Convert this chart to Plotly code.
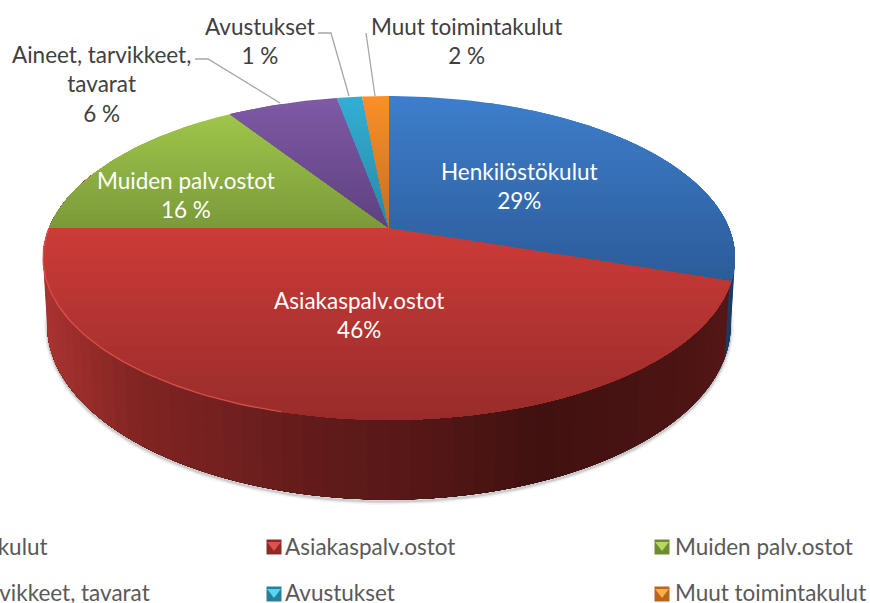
import numpy as np
import plotly.graph_objects as go

# --- data -----------------------------------------------------------------
categories = ["Henkilöstökulut", "Asiakaspalv.ostot", "Muiden palv.ostot",
              "Aineet, tarvikkeet, tavarat", "Avustukset", "Muut toimintakulut"]
# slice shares as drawn (angle)
values = [30.2, 44.8, 15.9, 6.2, 1.4, 1.5]
# percentages as printed on the chart
printed = ["29%", "46%", "16 %", "6 %", "1 %", "2 %"]

# --- style ----------------------------------------------------------------
top_light = ["#3e7ecc", "#cc3b38", "#a0c64b", "#7f59a5", "#33afd4", "#fa9028"]
top_dark = ["#2b5b98", "#982c2a", "#7a9a39", "#5e4180", "#2a88a6", "#c76e20"]
band_span = [(96, 285), (228, 420), (113, 228), (99, 228), (96, 228), (96, 228)]
bevel_dark = ["#2b5b98", "#8c2a28", "#6f8c34", "#5e4180", "#26809c", "#b9651c"]
bevel_light = ["#5a94dc", "#e0504c", "#b4d860", "#9a74c0", "#55d4f4", "#fdaa50"]

W, H = 870, 603
CX, CY = 389.0, 228.0
C = 0.185
A = -114.2
R = 340.0
DEPTH = 65.0
BOTTOM_X = 0.988
FS = 22.5
FONT = "Lato"


def hex2rgb(h):
    return np.array([int(h[i:i + 2], 16) for i in (1, 3, 5)], float)


def mix(a, b, t):
    t = float(np.clip(t, 0, 1))
    c = hex2rgb(a) * (1 - t) + hex2rgb(b) * t
    return "rgb(%d,%d,%d)" % tuple(np.round(c))


def proj(theta):
    """Angle (radians, clockwise from 12 o'clock) -> top-face pixel position."""
    u, v = np.sin(theta), np.cos(theta)
    w = 1 + C * v
    return CX + R * u / w, (A * v + CY) / w


def proj_bottom(theta):
    x, y = proj(theta)
    return CX + (x - CX) * BOTTOM_X, y + DEPTH / (1 + C * np.cos(theta))


def clip_below(pts, y0):
    """Keep the part of a polygon with y >= y0 (Sutherland-Hodgman)."""
    out = []
    for i in range(len(pts)):
        a, b = pts[i], pts[(i + 1) % len(pts)]
        ia, ib = a[1] >= y0, b[1] >= y0
        if ia:
            out.append(a)
        if ia != ib:
            t = (y0 - a[1]) / (b[1] - a[1])
            out.append((a[0] + t * (b[0] - a[0]), y0))
    return out


fig = go.Figure()


def poly(xs, ys, color):
    fig.add_trace(go.Scatter(x=list(xs), y=list(ys), mode="lines", fill="toself",
                             fillcolor=color, line=dict(width=0),
                             hoverinfo="skip", showlegend=False))


edges = np.cumsum([0] + values) / sum(values) * 2 * np.pi

# soft shadow under the wall
th = np.linspace(np.pi * 0.45, np.pi * 1.55, 120)
bx, by = proj_bottom(th)
for lw, al in ((7, 0.05), (4, 0.09), (2, 0.14)):
    fig.add_trace(go.Scatter(x=bx, y=by + 2, mode="lines", hoverinfo="skip", showlegend=False,
                             line=dict(color="rgba(60,60,60,%.2f)" % al, width=lw)))

# side wall: colour steps painted over each other, shaded by screen x
wall_x = [40, 130, 300, 450, 540, 700, 740]
wall_c = ["#ab3431", "#832523", "#641c1b", "#501615", "#401110", "#4d1514", "#571817"]
blue_wall = "#1c3b63"
wall_end = np.radians(292.0)
for a0 in np.radians(np.arange(84, 290, 3.0)):
    seg = np.linspace(a0, wall_end, 60)
    tx, ty = proj(seg)
    bx, by = proj_bottom(seg)
    xm = float(proj(a0 + np.radians(1.5))[0])
    if a0 < edges[1]:
        col = blue_wall
    else:
        i = int(np.clip(np.searchsorted(wall_x, xm) - 1, 0, len(wall_x) - 2))
        col = mix(wall_c[i], wall_c[i + 1], (xm - wall_x[i]) / (wall_x[i + 1] - wall_x[i]))
    poly(np.r_[tx, bx[::-1]], np.r_[ty, by[::-1]], col)

# top face: each wedge painted in overlapping steps to carry its vertical gradient
for k in range(len(values)):
    th = np.linspace(edges[k], edges[k + 1], max(8, int(np.degrees(edges[k + 1] - edges[k]))))
    xs, ys = proj(th)
    pts = [(CX, CY)] + list(zip(xs.tolist(), ys.tolist()))
    y0, y1 = band_span[k]
    n = 26
    for j in range(n):
        ya = y0 + (y1 - y0) * j / n
        c = clip_below(pts, ya) if j else pts
        if len(c) >= 3:
            poly([p[0] for p in c], [p[1] for p in c], mix(top_light[k], top_dark[k], (j + 0.5) / n))

# light rim along the front-left of the red slice
th = np.radians(np.linspace(195, 270, 60))
rx, ry = proj(th)
fig.add_trace(go.Scatter(x=rx, y=ry, mode="lines", hoverinfo="skip", showlegend=False,
                         line=dict(color="rgba(225,85,80,0.8)", width=1.4)))

# leader lines
leaders = [([195, 208, 280], [59, 59, 103]),
           ([318, 331, 349], [33, 33, 96]),
           ([366, 375], [33, 96])]
for lx, ly in leaders:
    fig.add_trace(go.Scatter(x=lx, y=ly, mode="lines", hoverinfo="skip", showlegend=False,
                             line=dict(color="#a6a6a6", width=1.3)))

# legend swatches
swatch_pos = {1: (274, 547), 2: (662, 547), 4: (274, 594), 5: (662, 594)}
for k, (sx, sy) in swatch_pos.items():
    fig.add_trace(go.Scatter(x=[sx], y=[sy], mode="markers", hoverinfo="skip", showlegend=False,
                             marker=dict(symbol="square", size=15, color=bevel_dark[k], line_width=0)))
    fig.add_trace(go.Scatter(x=[sx], y=[sy - 2], mode="markers", hoverinfo="skip", showlegend=False,
                             marker=dict(symbol="triangle-down", size=12, color=bevel_light[k], line_width=0)))


def text(x, y, s, color, anchor="center"):
    fig.add_annotation(x=x, y=y, text=s, showarrow=False, xanchor=anchor, yanchor="middle",
                       align="center", font=dict(family=FONT, size=FS, color=color))


DARK = "#404040"
text(519, 186, categories[0] + "<br>" + printed[0], "white")
text(359, 315, categories[1] + "<br>" + printed[1], "white")
text(186, 195, categories[2] + "<br>" + printed[2], "white")
text(101, 84, "Aineet, tarvikkeet,<br>tavarat<br>" + printed[3], DARK)
text(260, 41, categories[4] + "<br>" + printed[4], DARK)
text(466, 41, categories[5] + "<br>" + printed[5], DARK)

LEG = "#595959"
text(50, 546, categories[0], LEG, "right")
text(152, 592, categories[3], LEG, "right")
text(283, 546, categories[1], LEG, "left")
text(283, 592, categories[4], LEG, "left")
text(673, 546, categories[2], LEG, "left")
text(673, 592, categories[5], LEG, "left")

fig.update_layout(width=W, height=H, margin=dict(l=0, r=0, t=0, b=0),
                  paper_bgcolor="white", plot_bgcolor="white", showlegend=False,
                  xaxis=dict(range=[0, W], visible=False, fixedrange=True),
                  yaxis=dict(range=[H, 0], visible=False, fixedrange=True))
fig.write_html("out.html", post_script="document.body.style.margin='0';",
               config={"displayModeBar": False})
